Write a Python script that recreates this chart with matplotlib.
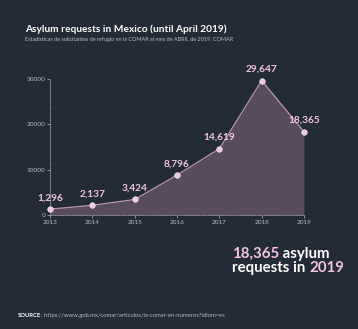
import matplotlib
matplotlib.use("Agg")
import matplotlib.pyplot as plt

plt.rcParams["font.family"] = ["Lato", "DejaVu Sans"]

years = [2013, 2014, 2015, 2016, 2017, 2018, 2019]
requests = [1296, 2137, 3424, 8796, 14619, 29647, 18365]
yticks = [0, 10000, 20000, 30000]

BG = "#232a38"
PINK = "#f4c4e0"
FILL = "#574b5c"
LINE = "#b996b6"
GREY = "#b9bcc4"

fig = plt.figure(figsize=(3.58, 3.29), dpi=100, facecolor=BG)
W, H = 358, 329
# axes placed in pixel coordinates: x 50..304, y 79..215 (top-down)
ax = fig.add_axes([50 / W, 1 - 215 / H, (304 - 50) / W, (215 - 79) / H])
ax.set_facecolor(BG)
ax.fill_between(years, requests, 0, color=FILL, lw=0)
ax.plot(years, requests, color=LINE, lw=0.9)
ax.plot(years, requests, "o", ms=4, color=PINK, mec="white", mew=0.4, zorder=3, clip_on=False)
for x, y in zip(years, requests):
    ax.annotate(f"{y:,}", (x, y), xytext=(0, 5), textcoords="offset points",
                ha="center", va="bottom", color=PINK, fontsize=7.3, fontweight="bold")
ax.set_xlim(2013, 2019)
ax.set_ylim(0, 30000)
ax.set_xticks(years)
ax.set_yticks(yticks)
ax.tick_params(colors=GREY, labelsize=4.6, length=2, width=0.5, pad=1.5)
for s in ["top", "right"]:
    ax.spines[s].set_visible(False)
for s in ["left", "bottom"]:
    ax.spines[s].set_color("#8a8f9a")
    ax.spines[s].set_linestyle((0, (1, 1.5)))
    ax.spines[s].set_linewidth(0.7)

fig.text(25 / W, 1 - 29 / H, "Asylum requests in Mexico (until April 2019)",
         color="white", fontsize=7.3, fontweight="bold", va="center")
fig.text(25 / W, 1 - 40 / H,
         "Estadísticas de solicitantes de refugio en la COMAR al mes de ABRIL de 2019, COMAR",
         color=GREY, fontsize=3.95, va="center")

renderer = fig.canvas.get_renderer()


def run(x, y, parts, size):
    # draw consecutive text pieces (string, colour, weight) on one baseline
    for s, c, w in parts:
        t = fig.text(x / W, 1 - y / H, s, color=c, fontweight=w, fontsize=size, va="baseline")
        x += t.get_window_extent(renderer).width


run(232, 258, [("18,365", PINK, "bold"), (" asylum", "white", "bold")], 10.8)
run(232, 272, [("requests in ", "white", "bold"), ("2019", PINK, "bold")], 10.8)
run(18, 317, [("SOURCE", "white", "bold"),
              (": https://www.gob.mx/comar/articulos/la-comar-en-numeros?idiom=es", GREY, "normal")], 4.2)

fig.savefig("out.png", dpi=100, facecolor=BG)
